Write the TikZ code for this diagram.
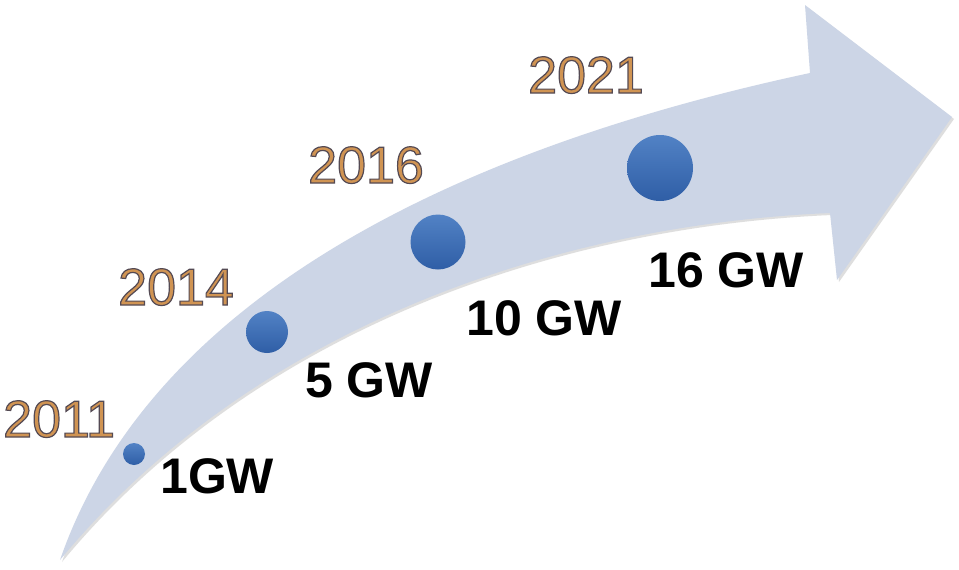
\documentclass[tikz,border=0pt]{standalone}
\usepackage{fontspec}
\setmainfont{Liberation Sans}
\usetikzlibrary{positioning}
\definecolor{arrowfill}{HTML}{CCD5E6}
\definecolor{dotblue}{HTML}{3A71BD}
\definecolor{dotdark}{HTML}{2F5EA6}
\definecolor{yearfill}{HTML}{D09453}
% year text: tan fill with a dark rim (stroked glyphs)
\newcommand\rimyear[1]{{\color{yearfill}%
  \special{pdf:code q 2 Tr 1.2 w 0.33 0.29 0.33 RG}#1\special{pdf:code Q}}}

\begin{document}
\begin{tikzpicture}[x=1pt,y=-1pt,
  dot/.style={circle,inner sep=0pt,top color=dotblue!88!white,bottom color=dotdark},
  gw/.style={anchor=base west,inner sep=0pt,font=\fontsize{50}{60}\selectfont\bfseries},
  year/.style={anchor=base west,inner sep=0pt,font=\fontsize{52}{62}\selectfont}]
\useasboundingbox[fill=white] (0,0) rectangle (959,570);
% curved arrow with a faint shadow
\fill[black!25,opacity=0.5] (62,562) .. controls (252,332) and (552,227) .. (832,215)
  -- (839,282) -- (954,119) -- (807,7) -- (812,75)
  .. controls (452,152) and (152,302) .. (62,562) -- cycle;
\fill[arrowfill] (60,560) .. controls (250,330) and (550,225) .. (830,213)
  -- (837,280) -- (952,117) -- (805,5) -- (810,73)
  .. controls (450,150) and (150,300) .. (60,560) -- cycle;
% dots
\node[dot,minimum size=22pt] (d11) at (134,454) {};
\node[dot,minimum size=42pt] (d14) at (267,332) {};
\node[dot,minimum size=55pt] (d16) at (438,242) {};
\node[dot,minimum size=66pt] (d21) at (660,168) {};
% capacities
\node[gw] (gw11) at (160,493) {1GW};
\node[gw] (gw14) at (305,397) {5 GW};
\node[gw] (gw16) at (466,335) {10 GW};
\node[gw] (gw21) at (648,287) {16 GW};
% years
\node[year] (y11) at (3,437) {\rimyear{2011}};
\node[year] (y14) at (118,305) {\rimyear{2014}};
\node[year] (y16) at (308,183) {\rimyear{2016}};
\node[year] (y21) at (528,93) {\rimyear{2021}};
\end{tikzpicture}
\end{document}
